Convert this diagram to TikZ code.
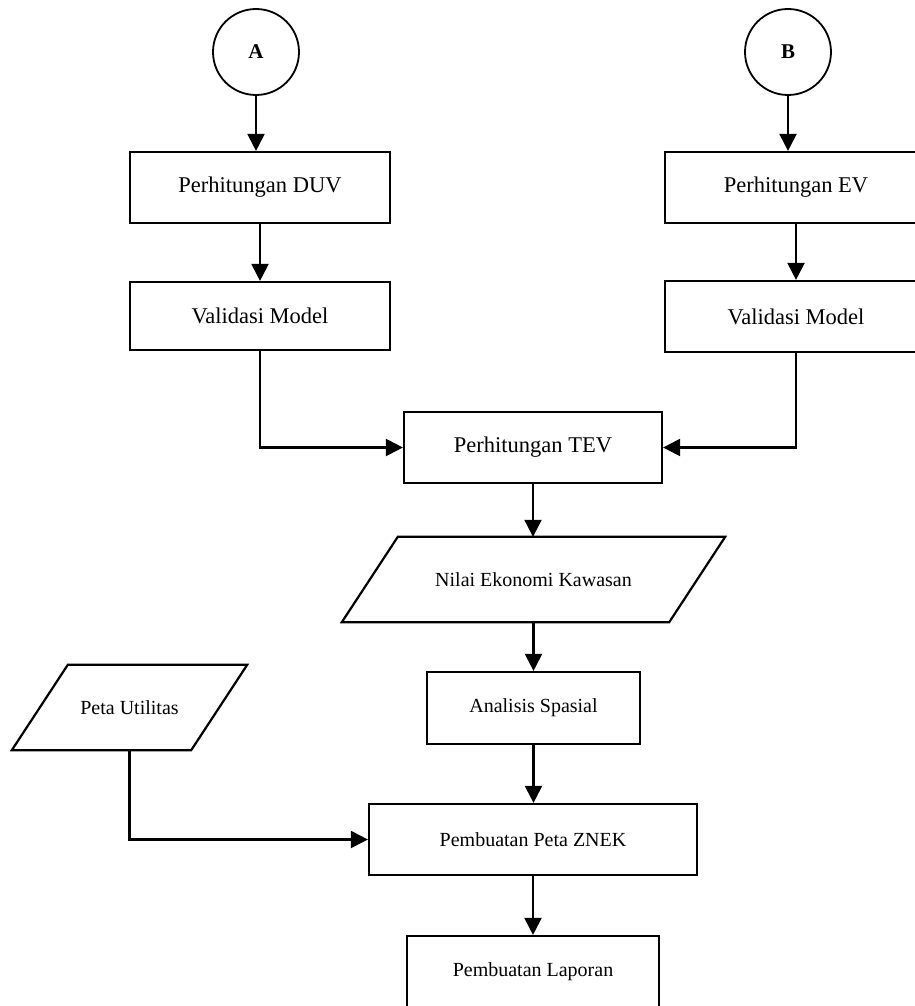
\documentclass[tikz,border=0pt]{standalone}
\usepackage{fontspec}
\setmainfont{Liberation Serif}
\usetikzlibrary{arrows.meta,calc}
\begin{document}
\begin{tikzpicture}[x=1pt,y=-1pt,
  box/.style={draw,line width=2.2pt,rectangle,inner sep=0pt},
  big/.style={font=\fontsize{22.5}{27}\selectfont},
  small/.style={font=\fontsize{20}{24}\selectfont},
  conn/.style={draw,circle,line width=1.8pt,minimum size=86pt,inner sep=0pt,font=\fontsize{21}{25}\selectfont\bfseries},
  ghost/.style={rectangle,inner sep=0pt},
  para/.style={line width=2.2pt,line join=miter},
  arr/.style={line width=2.2pt,-{Triangle[length=17pt,width=17pt]}}]
\useasboundingbox (0,0) rectangle (915,1006);
\fill[white] (0,0) rectangle (915,1006);
% connectors A and B
\node[conn] (A) at (256,52) {A};
\node[conn] (B) at (788,52) {B};
% left column
\node[box,big,minimum width=260pt,minimum height=71pt] (duv) at (260,187.5) {Perhitungan DUV};
\node[box,big,minimum width=260pt,minimum height=68pt] (valA) at (260,316) {Validasi Model};
% right column
\node[box,big,minimum width=262pt,minimum height=71pt] (ev) at (796,187.5) {Perhitungan EV};
\node[box,big,minimum width=262pt,minimum height=71pt] (valB) at (796,316.5) {Validasi Model};
% centre
\node[box,big,minimum width=258pt,minimum height=71pt] (tev) at (533,447.5) {Perhitungan TEV};
\node[ghost,small,minimum width=327pt,minimum height=85pt] (nilai) at (533.5,579.5) {Nilai Ekonomi Kawasan};
\draw[para] ($(nilai.north west)+(28,0)$) -- ($(nilai.north east)+(28,0)$) -- ($(nilai.south east)-(28,0)$) -- ($(nilai.south west)-(28,0)$) -- cycle;
\node[box,small,minimum width=213pt,minimum height=72pt] (ana) at (533.5,708) {Analisis Spasial};
\node[ghost,small,minimum width=179pt,minimum height=85pt] (peta) at (129.5,707.5) {Peta Utilitas};
\draw[para] ($(peta.north west)+(28,0)$) -- ($(peta.north east)+(28,0)$) -- ($(peta.south east)-(28,0)$) -- ($(peta.south west)-(28,0)$) -- cycle;
\node[box,small,minimum width=328pt,minimum height=71pt] (znek) at (533,839.5) {Pembuatan Peta ZNEK};
\node[box,minimum width=252pt,minimum height=100pt] (lap) at (533,986) {};
\node[small] (laptext) at (533,972) {Pembuatan Laporan};
% arrows
\draw[arr] (A.south) -- (A.south |- duv.north);
\draw[arr] (duv.south) -- (valA.north);
\draw[arr] (B.south) -- (B.south |- ev.north);
\draw[arr] (ev.south) -- (valB.north);
\draw[arr] (valA.south) |- (tev.west);
\draw[arr] (valB.south) |- (tev.east);
\draw[arr] (tev.south) -- (nilai.north -| tev.south);
\draw[arr] (nilai.south -| ana.north) -- (ana.north);
\draw[arr] (ana.south) -- (znek.north -| ana.south);
\draw[arr] (peta.south) |- (znek.west);
\draw[arr] (znek.south) -- (lap.north);
\end{tikzpicture}
\end{document}
